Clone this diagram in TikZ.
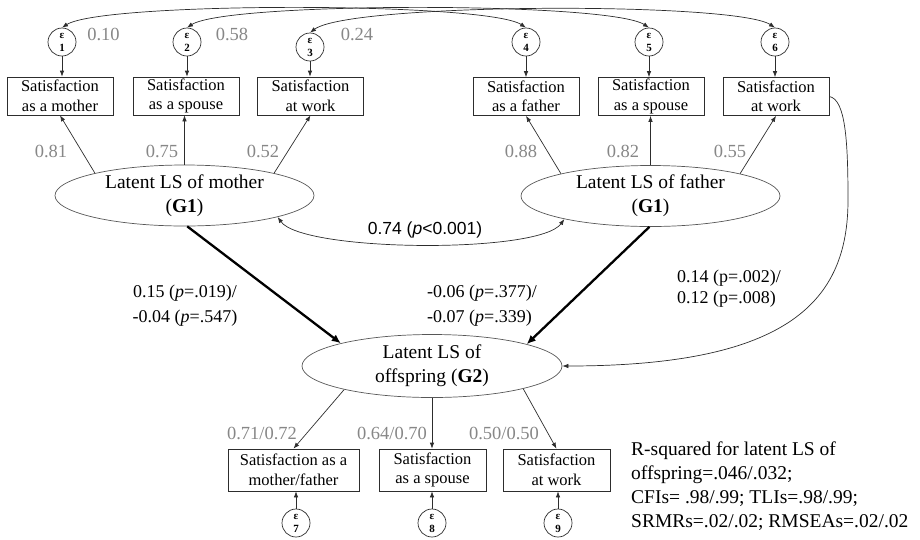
\documentclass[tikz,border=0pt]{standalone}
\usepackage{fontspec}
\setmainfont{Liberation Serif}
\newfontfamily\arialfont{Liberation Sans}
\usetikzlibrary{shapes.geometric,arrows.meta}
\definecolor{lblgray}{RGB}{135,135,135}
\definecolor{lnk}{RGB}{45,45,45}
\begin{document}
\begin{tikzpicture}[x=1pt,y=-1pt,
  obs/.style={draw=lnk,line width=0.7pt,rectangle,minimum width=106pt,minimum height=38pt,inner sep=0pt,align=center,font=\fontsize{16.5}{19.5}\selectfont},
  lat/.style={draw=lnk!80,line width=0.7pt,ellipse,minimum width=259pt,minimum height=61pt,inner sep=0pt,align=center,font=\fontsize{19.5}{24}\selectfont},
  err/.style={draw=lnk,line width=0.7pt,circle,minimum size=28pt,inner sep=0pt,align=center,font=\fontsize{11}{13}\selectfont\bfseries},
  ld/.style={text=lblgray,font=\fontsize{18.5}{22}\selectfont,inner sep=0pt},
  lab/.style={font=\fontsize{18}{25}\selectfont,inner sep=0pt},
  arr/.style={draw=lnk,line width=0.7pt,-{Latex[length=6pt,width=4.5pt]}},
  darr/.style={draw=lnk,line width=0.7pt,{Latex[length=6pt,width=4.5pt]}-{Latex[length=6pt,width=4.5pt]}},
  bigarr/.style={draw=black,line width=2.3pt,-{Latex[length=9pt,width=8pt]}}
]
\useasboundingbox (0,0) rectangle (920,539);

% error terms top
\node[err] (e1) at (62,42) {ε\\1};
\node[err] (e2) at (187,42) {ε\\2};
\node[err] (e3) at (310,47) {ε\\3};
\node[err] (e4) at (526,42) {ε\\4};
\node[err] (e5) at (649,42) {ε\\5};
\node[err] (e6) at (775,42) {ε\\6};

% observed top
\node[obs] (b1) at (60,96) {Satisfaction\\as a mother};
\node[obs] (b2) at (186,96) {Satisfaction\\as a spouse};
\node[obs] (b3) at (310.5,96) {Satisfaction\\at work};
\node[obs] (b4) at (526,96.5) {Satisfaction\\as a father};
\node[obs] (b5) at (651,96.5) {Satisfaction\\as a spouse};
\node[obs] (b6) at (776,96.5) {Satisfaction\\at work};

% latent
\node[lat] (m) at (184.5,195.5) {Latent LS of mother\\(\textbf{G1})};
\node[lat] (f) at (650.5,196) {Latent LS of father\\(\textbf{G1})};
\node[lat,minimum width=260pt,minimum height=63pt] (o) at (432,366) {Latent LS of\\offspring (\textbf{G2})};

% observed bottom
\node[obs,minimum width=131pt,minimum height=42pt] (b7) at (293.5,470) {Satisfaction as a\\mother/father};
\node[obs,minimum width=107pt,minimum height=42pt] (b8) at (432.5,470) {Satisfaction\\as a spouse};
\node[obs,minimum width=107pt,minimum height=42pt] (b9) at (556.5,470) {Satisfaction\\at work};

% error terms bottom
\node[err] (e7) at (296,523) {ε\\7};
\node[err] (e8) at (432,523) {ε\\8};
\node[err] (e9) at (558,523) {ε\\9};

% error arrows
\foreach \a/\b in {e1/b1,e2/b2,e3/b3,e4/b4,e5/b5,e6/b6}
  \draw[arr] (\a.south) -- (\a.south |- \b.north);
\foreach \a/\b in {e7/b7,e8/b8,e9/b9}
  \draw[arr] (\a.north) -- (\a.north |- \b.south);

% residual covariances
\draw[darr] (e1.north) .. controls +(40,-26) and +(-40,-26) .. (e4.north);
\draw[darr] (e2.north) .. controls +(40,-26) and +(-40,-26) .. (e5.north);
\draw[darr] (e3.north) .. controls +(40,-30) and +(-40,-26) .. (e6.north);

% loadings
\draw[arr] (m.166) -- (b1.south);
\draw[arr] (m.north) -- (m.north |- b2.south);
\draw[arr] (m.14) -- (b3.south);
\draw[arr] (f.166) -- (b4.south);
\draw[arr] (f.north) -- (f.north |- b5.south);
\draw[arr] (f.14) -- (b6.south);
\draw[arr] (o.195) -- (b7.north);
\draw[arr] (o.south) -- (o.south |- b8.north);
\draw[arr] (o.-14) -- (b9.north);

% structural paths
\draw[bigarr] (m.-85) -- (o.166);
\draw[bigarr] (f.-92) -- (o.13);
\draw[darr] (m.-13.5) .. controls +(25,35) and +(-25,35) .. (f.-165);
\coordinate (bend) at (848,200);
\draw[arr] (b6.east) .. controls +(16,3) and +(0,-60) .. (bend) .. controls +(0,100) and +(228,0) .. (o.east);

% gray loading labels
\node[ld] (l1) at (103.5,34) {0.10};
\node[ld] (l2) at (232,34) {0.58};
\node[ld] (l3) at (357,34) {0.24};
\node[ld] (l4) at (51,151) {0.81};
\node[ld] (l5) at (162,151) {0.75};
\node[ld] (l6) at (263,151) {0.52};
\node[ld] (l7) at (521,151) {0.88};
\node[ld] (l8) at (623,151) {0.82};
\node[ld] (l9) at (730,151) {0.55};
\node[ld] (l10) at (262,433) {0.71/0.72};
\node[ld] (l11) at (392,433) {0.64/0.70};
\node[ld] (l12) at (504,433) {0.50/0.50};

% path labels
\node[lab,font=\arialfont\fontsize{17.5}{21}\selectfont] (c1) at (425,229.5) {0.74 (\textit{p}<0.001)};
\node[lab,align=center] (p1) at (185,306) {0.15 (\textit{p}=.019)/\\-0.04 (\textit{p}=.547)};
\node[lab,align=left,anchor=west] (p2) at (427,306) {-0.06 (\textit{p}=.377)/\\-0.07 (\textit{p}=.339)};
\node[lab,align=left,anchor=west,font=\fontsize{18}{21.5}\selectfont] (p3) at (677,288.5) {0.14 (p=.002)/\\0.12 (p=.008)};

% fit statistics
\node[inner sep=0pt,align=left,anchor=north west,font=\fontsize{19.5}{24}\selectfont] (fit) at (631,441.7)
  {R-squared for latent LS of\\offspring=.046/.032;\\CFIs= .98/.99; TLIs=.98/.99;\\SRMRs=.02/.02; RMSEAs=.02/.02};
\end{tikzpicture}
\end{document}
